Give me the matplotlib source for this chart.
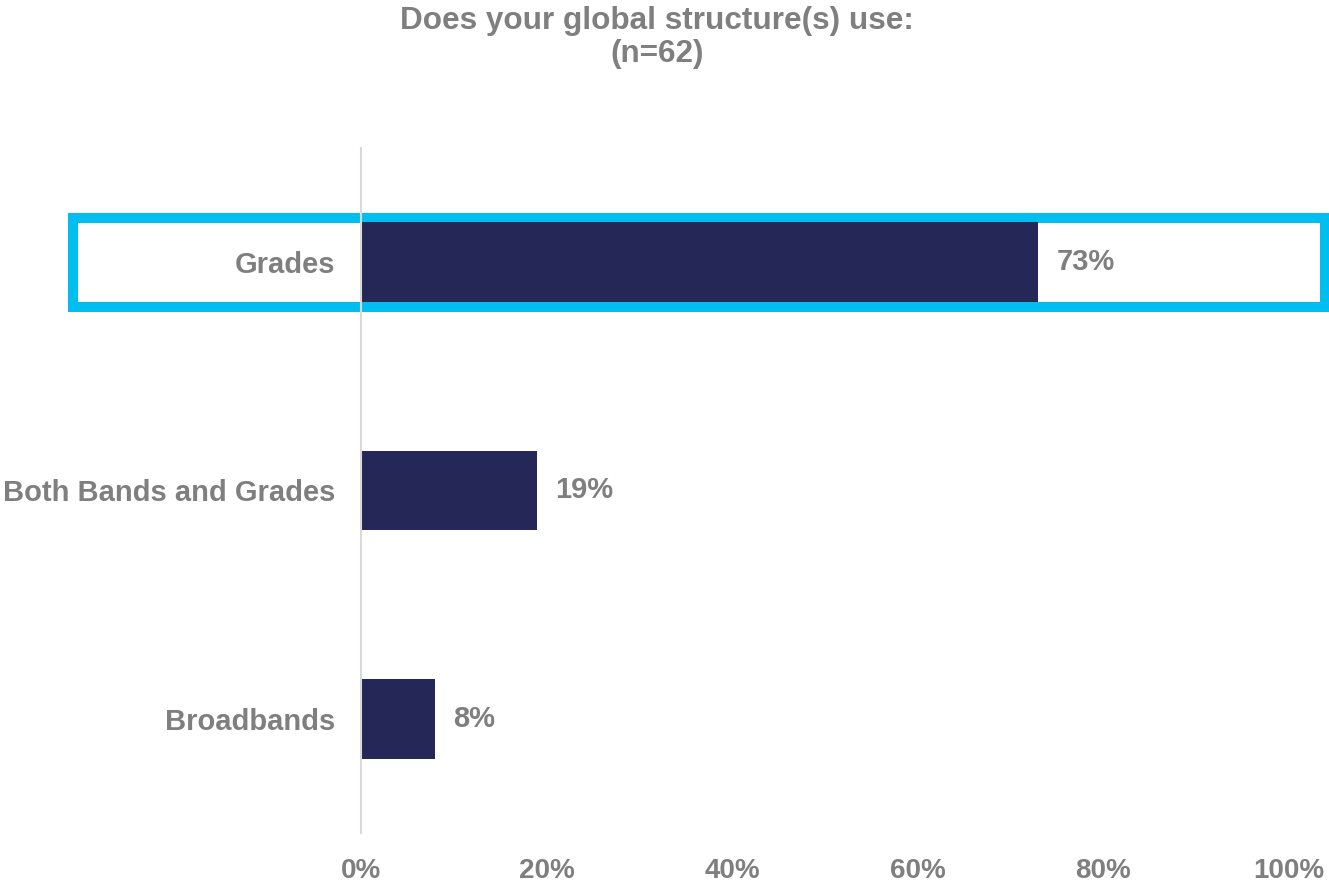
import matplotlib
matplotlib.use('Agg')
import matplotlib.pyplot as plt
from matplotlib.patches import Rectangle

# survey answers, top to bottom
categories = ['Grades', 'Both Bands and Grades', 'Broadbands']
shares = [73, 19, 8]
tick_values = [0, 20, 40, 60, 80, 100]
tick_labels = ['0%', '20%', '40%', '60%', '80%', '100%']

navy = '#252856'
grey = '#7f7f7f'
cyan = '#00bff0'

plt.rcParams['font.family'] = ['Liberation Sans', 'DejaVu Sans']
plt.rcParams['font.weight'] = 'bold'

fig = plt.figure(figsize=(13.29, 8.84), dpi=100)
ax = fig.add_axes([0.2716, 0.0577, 0.6983, 0.7749])

pos = list(range(len(categories)))
ax.barh(pos, shares, height=0.35, color=navy, zorder=3)
ax.set_ylim(len(categories) - 0.5, -0.5)
ax.set_xlim(0, 100)

# percentage labels right of each bar
for p, v in zip(pos, shares):
    ax.text(v + 1.95, p, f'{v}%', va='center', ha='left', fontsize=21,
            color=grey, fontweight='bold')

ax.set_yticks(pos)
ax.set_yticklabels(categories)
ax.set_xticks(tick_values)
ax.set_xticklabels(tick_labels)
ax.tick_params(axis='y', length=0, pad=18.5, labelsize=21, labelcolor=grey)
ax.tick_params(axis='x', length=0, pad=18, labelsize=20, labelcolor=grey)

for side in ['top', 'right', 'bottom']:
    ax.spines[side].set_visible(False)
ax.spines['left'].set_color('#d9d9d9')
ax.spines['left'].set_linewidth(1.5)
ax.spines['left'].set_zorder(4)

# highlight box around the first answer
ax.add_patch(Rectangle((-31.0, -0.195), 134.9, 0.39, fill=False,
                       edgecolor=cyan, linewidth=7.2, clip_on=False, zorder=2))

fig.text(657 / 1329, 1 - 21 / 884, 'Does your global structure(s) use:',
         ha='center', va='center', fontsize=22.7, color=grey, fontweight='bold')
fig.text(657 / 1329, 1 - 54 / 884, '(n=62)',
         ha='center', va='center', fontsize=22.7, color=grey, fontweight='bold')

fig.savefig('out.png', dpi=100, facecolor='white')
